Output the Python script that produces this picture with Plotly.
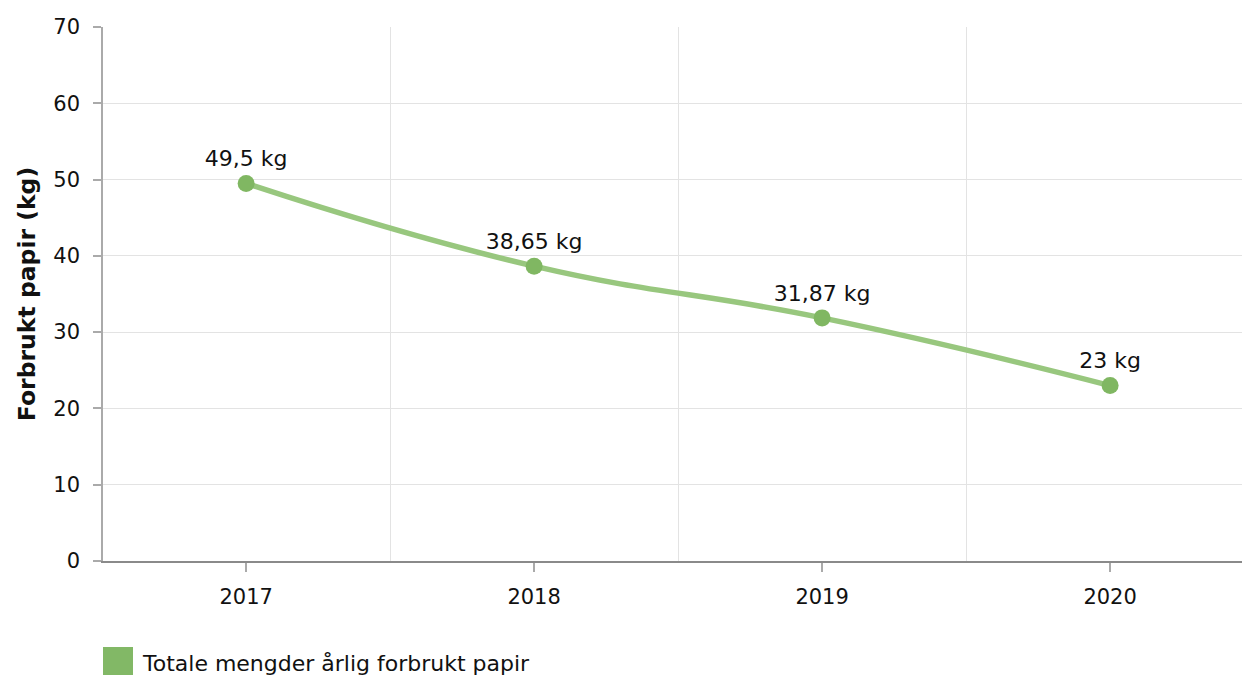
import plotly.graph_objects as go

years = ["2017", "2018", "2019", "2020"]
values = [49.5, 38.65, 31.87, 23]
labels = ["49,5 kg", "38,65 kg", "31,87 kg", "23 kg"]
series_name = "Totale mengder årlig forbrukt papir"
y_title = "Forbrukt papir (kg)"

FONT = "DejaVu Sans, Verdana, sans-serif"
xpos = list(range(len(years)))

fig = go.Figure()
fig.add_trace(go.Scatter(
    x=xpos, y=values, mode="lines+markers+text",
    line=dict(shape="spline", smoothing=1.3, color="#98c77e", width=5.5),
    marker=dict(color="#80b762", size=17),
    text=labels, textposition="top center",
    textfont=dict(family=FONT, size=22, color="#111111"),
    showlegend=False, cliponaxis=False,
    name=series_name,
))

fig.update_layout(
    width=1242, height=675,
    margin=dict(l=103, r=0, t=27, b=114),
    paper_bgcolor="white", plot_bgcolor="white",
    font=dict(family=FONT, size=20, color="#111111"),
    showlegend=False,
    xaxis=dict(
        range=[-0.497, 3.458],
        tickmode="array", tickvals=xpos, ticktext=years,
        showgrid=False, zeroline=False,
        showline=True, linecolor="#8a8a8a", linewidth=1.5,
        ticks="outside", ticklen=9, tickcolor="#aaaaaa", tickwidth=1.5,
        ticklabelstandoff=7,
        tickfont=dict(family=FONT, size=21, color="#111111"),
        minor=dict(tickmode="array", tickvals=[0.5, 1.5, 2.5], showgrid=True,
                   gridcolor="#e3e3e3", gridwidth=1, ticks=""),
    ),
    yaxis=dict(
        range=[0, 70], tickmode="array", tickvals=[0, 10, 20, 30, 40, 50, 60, 70],
        showgrid=True, gridcolor="#e3e3e3", gridwidth=1, zeroline=False,
        showline=True, linecolor="#aaaaaa", linewidth=1.5,
        ticks="outside", ticklen=8, tickcolor="#aaaaaa", tickwidth=1.5,
        ticklabelstandoff=9,
        tickfont=dict(family=FONT, size=21, color="#111111"),
        title=dict(text="<b>" + y_title + "</b>", font=dict(family=FONT, size=23.5, color="#111111"), standoff=11),
    ),
)

# legend swatch + label
fig.add_shape(type="rect", xref="paper", yref="paper",
              x0=0/1139, x1=30/1139, y0=-(647-561)/534, y1=-(676-561)/534,
              fillcolor="#82b866", line=dict(width=0), layer="above")
fig.add_annotation(xref="paper", yref="paper", x=37/1139, y=-(663-561)/534,
                   text=series_name, showarrow=False, xanchor="left", yanchor="middle",
                   font=dict(family=FONT, size=22, color="#111111"))

fig.write_html("out.html", config={"displayModeBar": False},
               post_script="document.body.style.margin='0';")
